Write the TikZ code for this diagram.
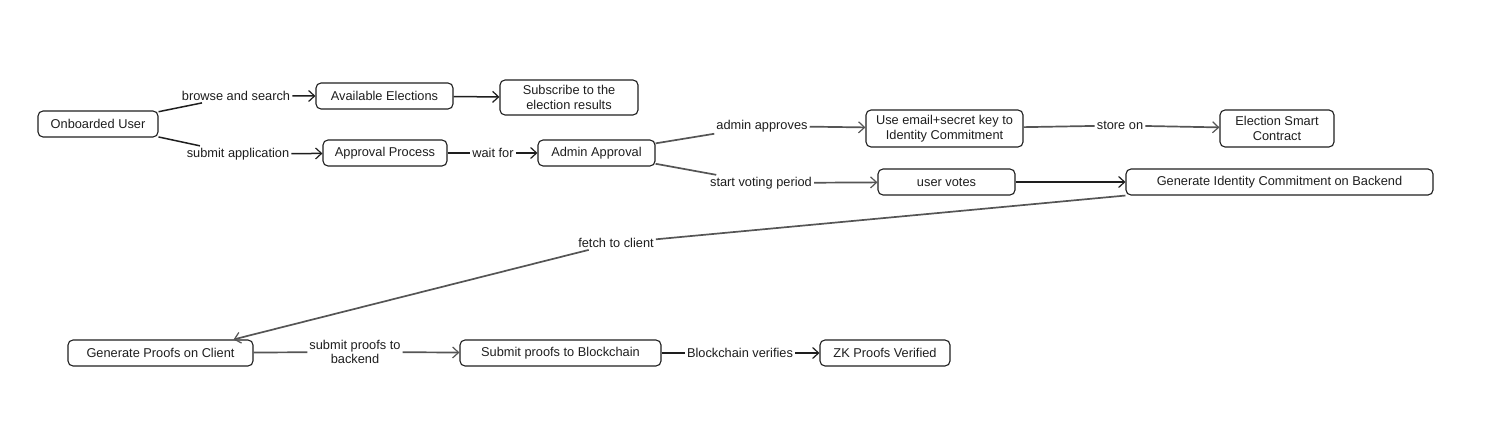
\documentclass[tikz,border=0pt]{standalone}
\usepackage{fontspec}
\setmainfont{Liberation Sans}
\usetikzlibrary{arrows.meta}
\definecolor{ink}{HTML}{1E1E1E}
\definecolor{inkg}{HTML}{555555}
\begin{document}
\begin{tikzpicture}[x=1pt,y=-1pt,
  nbox/.style={draw=ink,line width=1.1pt,rounded corners=5pt,inner sep=0pt,align=center,
    font=\fontsize{12.8}{15.5}\selectfont,text=ink},
  lbl/.style={fill=white,inner sep=2pt,align=center,font=\fontsize{12.8}{14.5}\selectfont,text=ink},
  arr/.style={draw=ink,line width=1.5pt,-{Straight Barb[length=6pt,width=11pt,line width=1.2pt]}},
  arrg/.style={arr,draw=inkg,line width=1.7pt}]
\useasboundingbox (0,0) rectangle (1493,422);
% nodes
\node[nbox,minimum width=120,minimum height=26] (ou) at (98,124) {Onboarded User};
\node[nbox,minimum width=137,minimum height=26] (ae) at (384.5,96) {Available Elections};
\node[nbox,minimum width=138,minimum height=35] (sub) at (569,97.5) {Subscribe to the\\election results};
\node[nbox,minimum width=124,minimum height=26] (ap) at (385,153) {Approval Process};
\node[nbox,minimum width=117,minimum height=26] (aa) at (596.5,153) {Admin Approval};
\node[nbox,minimum width=157,minimum height=37] (use) at (944.5,128.5) {Use email+secret key to\\Identity Commitment};
\node[nbox,minimum width=114,minimum height=37] (esc) at (1277,128.5) {Election Smart\\Contract};
\node[nbox,minimum width=137,minimum height=26] (uv) at (946.5,182) {user votes};
\node[nbox,minimum width=307,minimum height=26] (gic) at (1279.5,182) {Generate Identity Commitment on Backend};
\node[nbox,minimum width=185,minimum height=26] (gpc) at (160.5,353) {Generate Proofs on Client};
\node[nbox,minimum width=201,minimum height=26] (spb) at (560.5,353) {Submit proofs to Blockchain};
\node[nbox,minimum width=130,minimum height=26] (zk) at (885,353) {ZK Proofs Verified};
% labels
\node[lbl] (l1) at (236,96) {browse and search};
\node[lbl] (l2) at (238,154) {submit application};
\node[lbl] (l3) at (493,153) {wait for};
\node[lbl] (l4) at (762,126) {admin approves};
\node[lbl] (l5) at (761,183) {start voting period};
\node[lbl] (l6) at (1120,125.5) {store on};
\node[lbl] (l7) at (616,243) {fetch to client};
\node[lbl] (l8) at (355,352) {submit proofs to\\backend};
\node[lbl] (l9) at (740,353) {Blockchain verifies};
% connectors
\draw[arr] (ou) -- (l1) -- (ae);
\draw[arr] (ou) -- (l2) -- (ap);
\draw[arr] (ae) -- (sub);
\draw[arr] (ap) -- (l3) -- (aa);
\draw[arrg] (aa) -- (l4) -- (use);
\draw[arrg] (aa) -- (l5) -- (uv);
\draw[arrg] (use) -- (l6) -- (esc);
\draw[arr] (uv) -- (gic);
\coordinate (gpcin) at ([xshift=-20pt]gpc.north east);
\draw[arrg] (gic.south west) -- (l7) -- (gpcin);
\draw[arrg] (gpc) -- (l8) -- (spb);
\draw[arr] (spb) -- (l9) -- (zk);
\end{tikzpicture}
\end{document}
